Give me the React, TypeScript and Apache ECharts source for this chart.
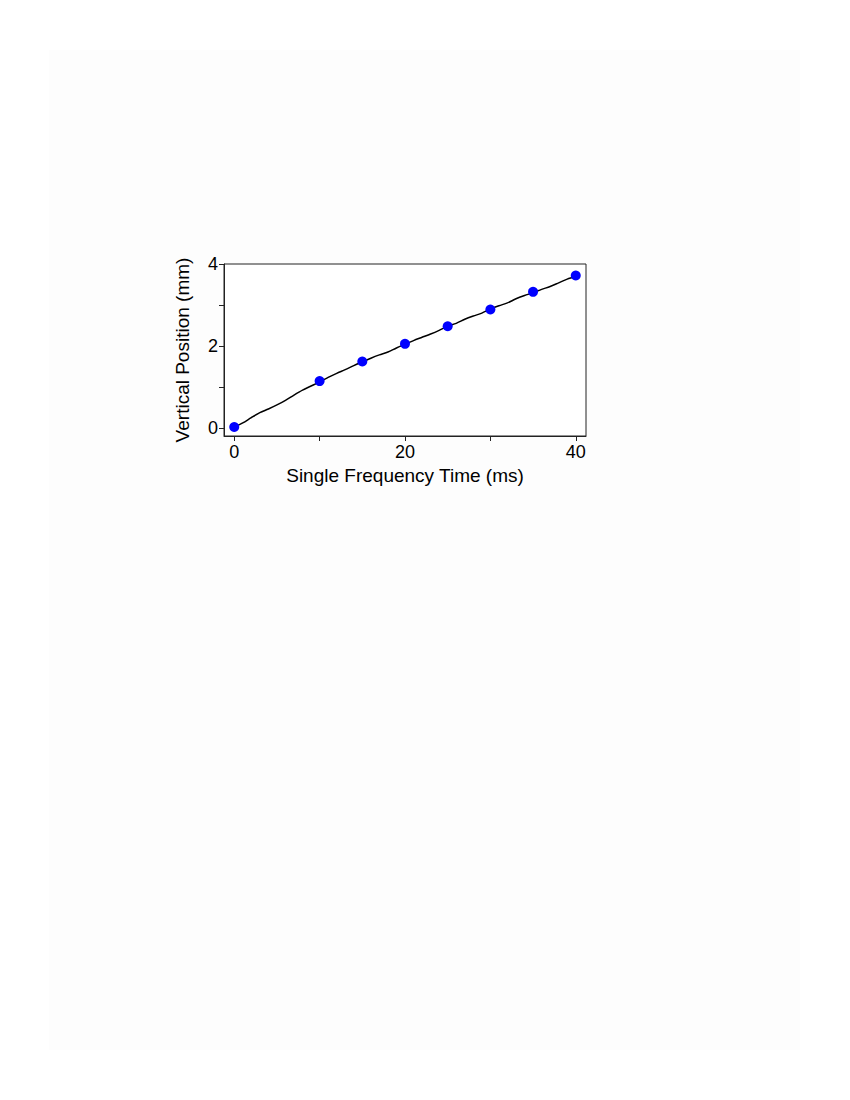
import React, { useEffect, useRef } from "react";
import * as echarts from "echarts";

const lineTime = [0,1,2,3,4,5,6,7,8,9,10,11,12,13,14,15,16,17,18,19,20,21,22,23,24,25,26,27,28,29,30,31,32,33,34,35,36,37,38,39,40];
const lineValue = [0.02,0.12,0.25,0.37,0.46,0.56,0.67,0.80,0.92,1.02,1.12,1.23,1.33,1.42,1.52,1.61,1.70,1.78,1.85,1.95,2.04,2.13,2.21,2.29,2.38,2.48,2.55,2.65,2.73,2.80,2.90,2.98,3.05,3.15,3.23,3.30,3.38,3.45,3.54,3.63,3.70];

const pointTime = [0, 10, 15, 20, 25, 30, 35, 40];
const pointValue = [0.02, 1.14, 1.62, 2.05, 2.48, 2.89, 3.32, 3.72];

const xLabelTicks = [0, 20, 40];
const xMinorTicks = [0, 10, 20, 30, 40];
const yLabelTicks = [0, 2, 4];
const yMinorTicks = [0, 1, 2, 3, 4];

const FONT = "Liberation Sans, Arial, sans-serif";

export default function App() {
  const ref = useRef<HTMLDivElement>(null);
  useEffect(() => {
    if (!ref.current) return;
    const chart = echarts.init(ref.current, undefined, { renderer: "svg" });
    chart.setOption({
      animation: false,
      backgroundColor: "#ffffff",
      graphic: [
        {
          type: "rect",
          z: -10,
          silent: true,
          shape: { x: 49, y: 50, width: 751, height: 1000 },
          style: { fill: "#fdfdfd" },
        },
      ],
      grid: {
        left: 224,
        top: 264,
        width: 362,
        height: 172,
        show: true,
        borderColor: "#222",
        borderWidth: 1,
        backgroundColor: "#ffffff",
      },
      xAxis: {
        type: "value",
        min: -1.2,
        max: 41.2,
        name: "Single Frequency Time (ms)",
        nameLocation: "middle",
        nameGap: 30,
        nameTextStyle: { color: "#000", fontSize: 19, fontFamily: FONT },
        splitLine: { show: false },
        axisLine: { show: true, onZero: false, lineStyle: { color: "#222", width: 1 } },
        axisTick: { show: true, customValues: xMinorTicks, length: 5, lineStyle: { color: "#222" } },
        axisLabel: { customValues: xLabelTicks, color: "#000", fontSize: 18, fontFamily: FONT, margin: 7 },
      },
      yAxis: {
        type: "value",
        min: -0.2,
        max: 4,
        name: "Vertical Position (mm)",
        nameLocation: "middle",
        nameGap: 32,
        nameTextStyle: { color: "#000", fontSize: 19, fontFamily: FONT },
        splitLine: { show: false },
        axisLine: { show: true, onZero: false, lineStyle: { color: "#222", width: 1 } },
        axisTick: { show: true, customValues: yMinorTicks, length: 5, lineStyle: { color: "#222" } },
        axisLabel: { customValues: yLabelTicks, color: "#000", fontSize: 18, fontFamily: FONT, margin: 6 },
      },
      series: [
        {
          type: "line",
          data: lineTime.map((t, i) => [t, lineValue[i]]),
          showSymbol: false,
          smooth: 0.3,
          lineStyle: { color: "#000", width: 1.5 },
          z: 2,
        },
        {
          type: "scatter",
          data: pointTime.map((t, i) => [t, pointValue[i]]),
          symbolSize: 10,
          itemStyle: { color: "#0000ff", opacity: 1 },
          z: 3,
        },
      ],
    });
    return () => chart.dispose();
  }, []);
  return (
    <div
      ref={ref}
      style={{ position: "absolute", left: 0, top: 0, width: 850, height: 1100 }}
    />
  );
}
